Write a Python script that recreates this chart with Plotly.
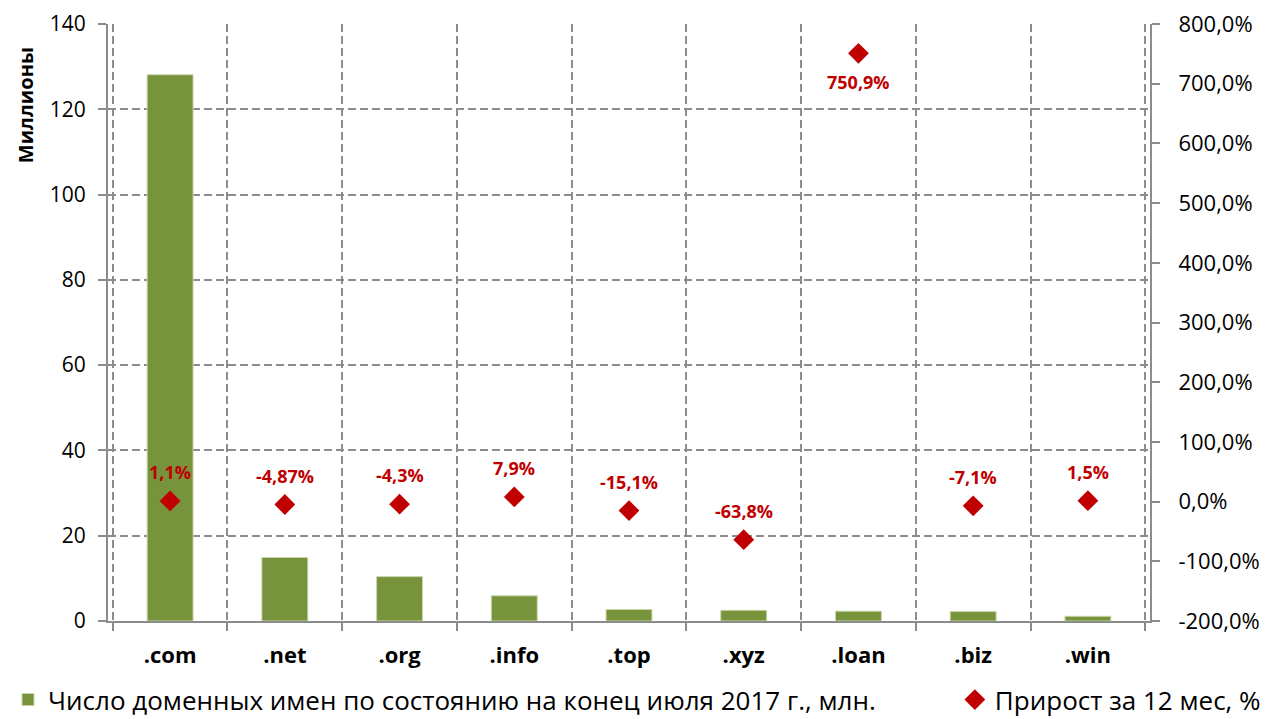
import plotly.graph_objects as go

# === Данные ===
zones = ['.com', '.net', '.org', '.info', '.top', '.xyz', '.loan', '.biz', '.win']
domains_mln = [128.1, 14.9, 10.4, 5.9, 2.7, 2.5, 2.3, 2.2, 1.1]
growth_pct = [1.1, -4.87, -4.3, 7.9, -15.1, -63.8, 750.9, -7.1, 1.5]

# Деления правой оси, %
y2_ticks = [-200, -100, 0, 100, 200, 300, 400, 500, 600, 700, 800]

growth_text = [f'{v}'.replace('.', ',') + '%' for v in growth_pct]
y2_ticktext = [f'{v:.1f}'.replace('.', ',') + '%' for v in y2_ticks]

AXIS_GRAY = '#8c8c8c'
RED = '#C00000'
FONT = 'Open Sans'

fig = go.Figure()

# Бары: число доменов
fig.add_trace(go.Bar(
    x=zones,
    y=domains_mln,
    name='Число доменных имен по состоянию на конец июля 2017 г., млн.',
    marker=dict(color='#77933C', line=dict(color='#c8d6a8', width=1)),
    width=0.4,
    legend='legend',
))

# Ромбы: прирост
fig.add_trace(go.Scatter(
    x=zones,
    y=growth_pct,
    yaxis='y2',
    mode='markers',
    name='Прирост за 12 мес, %',
    marker=dict(symbol='diamond', color=RED, size=16),
    legend='legend2',
))

# Подписи прироста (над ромбом, у .loan - под ним)
for z, v, t in zip(zones, growth_pct, growth_text):
    fig.add_annotation(
        x=z, y=v, xref='x', yref='y2',
        text=t, showarrow=False,
        yshift=-29 if v > 100 else 29,
        font=dict(family=FONT, size=18, color=RED, weight='bold'),
    )

# Заголовок левой оси - сверху, как в Excel
fig.add_annotation(
    xref='paper', yref='paper', x=0, y=0.864,
    xshift=-83, textangle=-90, showarrow=False,
    xanchor='center', yanchor='middle',
    text='Миллионы',
    font=dict(family=FONT, size=20, color='black', weight='bold'),
)

legend_common = dict(
    orientation='h',
    yref='container', y=0.038, yanchor='middle',
    xref='container',
    font=dict(size=26),
    itemwidth=30,
    bgcolor='rgba(0,0,0,0)',
)

fig.update_layout(
    width=1268,
    height=719,
    paper_bgcolor='white',
    plot_bgcolor='white',
    font=dict(family=FONT, color='black'),
    separators=', ',
    margin=dict(l=100, r=126, t=16, b=106, autoexpand=False),
    showlegend=True,
    legend=dict(legend_common, x=0.0, xanchor='left'),
    legend2=dict(legend_common, x=0.992, xanchor='right'),
    xaxis=dict(
        type='category',
        automargin=False,
        tickson='boundaries',
        showgrid=True,
        gridcolor=AXIS_GRAY,
        griddash='8px,4px',
        gridwidth=2,
        showline=True,
        linecolor=AXIS_GRAY,
        linewidth=2,
        ticks='outside',
        ticklen=8,
        tickcolor=AXIS_GRAY,
        tickwidth=2,
        ticklabelstandoff=14,
        tickfont=dict(size=22, weight='bold'),
    ),
    yaxis=dict(
        range=[0, 140],
        dtick=20,
        automargin=False,
        showgrid=True,
        gridcolor=AXIS_GRAY,
        griddash='8px,4px',
        gridwidth=2,
        showline=True,
        linecolor=AXIS_GRAY,
        linewidth=2,
        ticks='outside',
        ticklen=8,
        tickcolor=AXIS_GRAY,
        tickwidth=2,
        ticklabelstandoff=8,
        ticklabeloverflow='allow',
        tickfont=dict(size=21),
        zeroline=False,
    ),
    yaxis2=dict(
        overlaying='y',
        side='right',
        range=[-200, 800],
        tickvals=y2_ticks,
        ticktext=y2_ticktext,
        automargin=False,
        showgrid=False,
        zeroline=False,
        showline=True,
        linecolor=AXIS_GRAY,
        linewidth=2,
        ticks='outside',
        ticklen=8,
        tickcolor=AXIS_GRAY,
        tickwidth=2,
        ticklabelstandoff=14,
        ticklabeloverflow='allow',
        tickfont=dict(size=22),
    ),
)

fig.write_html('out.html')
